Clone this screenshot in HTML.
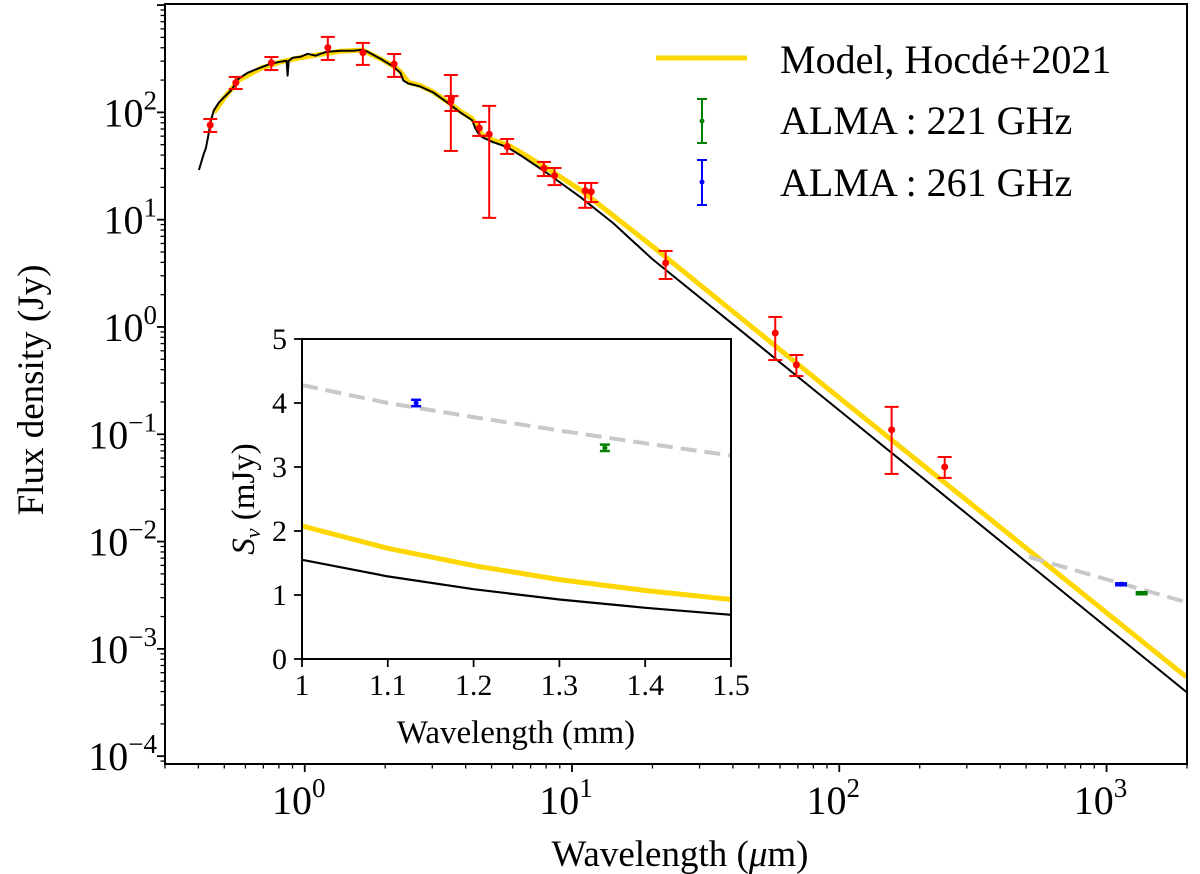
<!DOCTYPE html>
<html><head><meta charset="utf-8"><style>
html,body{margin:0;padding:0;background:#fff;}
svg{display:block;font-family:"Liberation Serif","DejaVu Serif",serif;}
</style></head><body>
<svg id="chart" width="1200" height="874" viewBox="0 0 1200 874" xmlns="http://www.w3.org/2000/svg"></svg>
<script>
// ---- main plot data ----
const redLam  = [0.443,0.552,0.75,1.22,1.65,2.16,3.52,3.54,4.5,4.9,5.72,7.85,8.6,11.2,11.8,22.4,57.6,69.1,157,248];
const redFlux = [76.3,189,290,401,360,282,126,136,71.6,62.5,47.9,30.1,25.7,18.6,18.2,3.95,0.879,0.443,0.110,0.0496];
const redLo   = [65.7,165,248,308,277,214,43.7,103,60.3,10.4,41,25.5,21.0,12.9,14.6,2.80,0.492,0.349,0.0427,0.0392];
const redHi   = [86.7,214,328,505,444,350,223,142,81.5,115,56.5,34.5,30.3,22.0,22.0,5.11,1.24,0.548,0.180,0.0614];
const almaLam  = [1353,1133];
const almaFlux = [0.0033,0.0040];
const almaErr  = [0.00007,0.00008];
const almaColor = ['#008000','#0000ff'];
// black photosphere model (log10 lambda um, log10 flux Jy)
const blackLogLam = [-0.396,-0.377,-0.370,-0.362,-0.351,-0.340,-0.321,-0.303,-0.276,-0.247,-0.213,-0.165,-0.127,-0.090,-0.068,-0.064,-0.060,-0.045,-0.015,0.011,0.041,0.059,0.085,0.134,0.182,0.216,0.235,0.283,0.332,0.358,0.369,0.388,0.432,0.481,0.533,0.582,0.627,0.638,0.649,0.664,0.705,0.757,0.806,0.906,1.030,1.153,1.302,1.6,2.0,3.298];
const blackLogF   = [1.463,1.620,1.667,1.769,1.926,2.019,2.093,2.139,2.204,2.315,2.370,2.417,2.454,2.472,2.481,2.343,2.481,2.509,2.519,2.546,2.528,2.546,2.565,2.574,2.574,2.583,2.565,2.5,2.426,2.370,2.296,2.269,2.241,2.185,2.093,2.0,1.926,1.852,1.806,1.769,1.722,1.676,1.602,1.435,1.213,0.97,0.63,0.03,-0.778,-3.40];
// yellow model (Hocde+2021)
const yellowLogLam = [-0.340,-0.303,-0.247,-0.165,-0.090,-0.015,0.059,0.134,0.216,0.283,0.332,0.358,0.388,0.432,0.481,0.533,0.582,0.627,0.664,0.705,0.757,0.806,0.906,1.030,1.302,2.0,3.298];
const yellowLogF   = [2.0,2.13,2.30,2.41,2.47,2.51,2.54,2.57,2.58,2.5,2.43,2.38,2.28,2.25,2.19,2.10,2.01,1.94,1.79,1.74,1.70,1.63,1.48,1.28,0.75,-0.66,-3.26];
// gray dashed free-free fit
const dashLam  = [512,2000];
const dashFlux = [0.00718,0.00271];
const xMajor = [0,1,2,3];
const yMajor = [2,1,0,-1,-2,-3,-4];

// ---- inset data ----
const insLam    = [1.0,1.1,1.2,1.3,1.4,1.5];
const insGray   = [4.28,4.0,3.78,3.57,3.37,3.18];
const insYellow = [2.08,1.73,1.46,1.24,1.07,0.93];
const insBlack  = [1.55,1.29,1.09,0.93,0.80,0.69];
const insPtLam  = [1.133,1.353];
const insPtVal  = [4.0,3.3];
const insPtErr  = [0.05,0.05];
const insPtColor = ['#0000ff','#008000'];
const insXTicks = [1,1.1,1.2,1.3,1.4,1.5];
const insXLabels = ['1','1.1','1.2','1.3','1.4','1.5'];
const insYTicks = [0,1,2,3,4,5];

const NS='http://www.w3.org/2000/svg';
const svg=document.getElementById('chart');
function mk(tag,attrs,parent){const e=document.createElementNS(NS,tag);for(const k in attrs)e.setAttribute(k,attrs[k]);(parent||svg).appendChild(e);return e;}

// main axes
const L=165,R=1187,T=4,B=764;
const LX0=Math.log10(0.3),LX1=Math.log10(2000),LY0=-4.073,LY1=3.01;
const sx=l=>L+(Math.log10(l)-LX0)/(LX1-LX0)*(R-L);
const sxl=g=>L+(g-LX0)/(LX1-LX0)*(R-L);
const sy=f=>B-(Math.log10(f)-LY0)/(LY1-LY0)*(B-T);
const syl=g=>B-(g-LY0)/(LY1-LY0)*(B-T);

const defs=mk('defs',{});
const cp=mk('clipPath',{id:'mainclip'},defs);mk('rect',{x:L,y:T,width:R-L,height:B-T},cp);
const ic=mk('clipPath',{id:'insclip'},defs);mk('rect',{x:302,y:339,width:429,height:320},ic);

const plot=mk('g',{'clip-path':'url(#mainclip)'});



function poly(xs,ys,attrs,parent){return mk('polyline',Object.assign({points:xs.map((x,i)=>x.toFixed(1)+','+ys[i].toFixed(1)).join(' '),fill:'none'},attrs),parent);}

const yl=poly(yellowLogLam.map(sxl),yellowLogF.map(syl),{stroke:'#ffd700','stroke-width':5,'stroke-linejoin':'round'},plot);


const bl=poly(blackLogLam.map(sxl),blackLogF.map(syl),{stroke:'#000','stroke-width':2,'stroke-linejoin':'round'},plot);


const dl=poly(dashLam.map(sx),dashFlux.map(sy),{stroke:'#c8c8c8','stroke-width':4,'stroke-dasharray':'16,8'},plot);



function errbar(x,y1,y2,yc,col,cap,w,r,parent,name){
  const g=mk('g',{},parent);
  
  
  mk('line',{x1:x,x2:x,y1:y1,y2:y2,stroke:col,'stroke-width':w},g);
  mk('line',{x1:x-cap,x2:x+cap,y1:y1,y2:y1,stroke:col,'stroke-width':w},g);
  mk('line',{x1:x-cap,x2:x+cap,y1:y2,y2:y2,stroke:col,'stroke-width':w},g);
  mk('circle',{cx:x,cy:yc,r:r,fill:col},g);
}
redLam.forEach((l,i)=>{errbar(sx(l),sy(redHi[i]),sy(redLo[i]),sy(redFlux[i]),'#ff0000',7,2,3.5,plot,'photometry-point');});
almaLam.forEach((l,i)=>{errbar(sx(l),sy(almaFlux[i]+almaErr[i]),sy(almaFlux[i]-almaErr[i]),sy(almaFlux[i]),almaColor[i],6,2.5,2.5,plot,'alma-point');});

// main frame
const fr=mk('rect',{x:L,y:T,width:R-L,height:B-T,fill:'none',stroke:'#000','stroke-width':2});



// x ticks
const xax=mk('g',{});


for(let d=-1;d<=3;d++){for(let m=1;m<=9;m++){const l=m*Math.pow(10,d);if(l<0.3||l>2000)continue;const x=sx(l);
  mk('line',{x1:x,x2:x,y1:B,y2:B+(m===1?8:4.5),stroke:'#000','stroke-width':m===1?1.8:1.3},xax);}}
xMajor.forEach(e=>{const t=mk('text',{x:sx(Math.pow(10,e))-6,y:814,'font-size':40,'text-anchor':'middle'},xax);
  
  
  t.textContent='10';const s=mk('tspan',{dy:-17,'font-size':27},t);s.textContent=String(e);});
const xt=mk('text',{x:680,y:866,'font-size':37,'text-anchor':'middle'});


xt.innerHTML='Wavelength (<tspan font-style="italic">μ</tspan>m)';

// y ticks
const yax=mk('g',{});


for(let d=-5;d<=3;d++){for(let m=1;m<=9;m++){const g=d+Math.log10(m);if(g<LY0||g>LY1)continue;const y=syl(g);
  mk('line',{x1:L,x2:L-(m===1?8:4.5),y1:y,y2:y,stroke:'#000','stroke-width':m===1?1.8:1.3},yax);}}
yMajor.forEach(e=>{const t=mk('text',{x:157,y:syl(e)+14,'font-size':40,'text-anchor':'end'},yax);
  
  
  t.textContent='10';const s=mk('tspan',{dy:-17,'font-size':27},t);s.textContent=e<0?'−'+(-e):String(e);});
const ytl=mk('text',{x:0,y:0,'font-size':37,'text-anchor':'middle',transform:'translate(43,390) rotate(-90)'});


ytl.textContent='Flux density (Jy)';

// legend
const leg=mk('g',{});


const l1=mk('line',{x1:656,x2:747,y1:58,y2:58,stroke:'#ffd700','stroke-width':5},leg);


errbar(702,99,143,121,'#008000',5,2,2.5,leg,'legend-alma221-swatch');
errbar(702,160,205,182,'#0000ff',5,2,2.5,leg,'legend-alma261-swatch');
[['Model, Hocdé+2021',73],['ALMA : 221 GHz',134],['ALMA : 261 GHz',196]].forEach(([s,y])=>{
  const t=mk('text',{x:780,y:y,'font-size':40},leg);
  
  
  t.textContent=s;});

// ---- inset ----
const IL=302,IR=731,IT=339,IB=659;
const ix=v=>IL+(v-1)/0.5*(IR-IL);
const iy=v=>IB-v/5*(IB-IT);
const ins=mk('g',{});


mk('rect',{x:IL,y:IT,width:IR-IL,height:IB-IT,fill:'#fff'},ins);
const ip=mk('g',{'clip-path':'url(#insclip)'},ins);
const ig=poly(insLam.map(ix),insGray.map(iy),{stroke:'#c8c8c8','stroke-width':4,'stroke-dasharray':'16,8'},ip);


const iyl=poly(insLam.map(ix),insYellow.map(iy),{stroke:'#ffd700','stroke-width':5,'stroke-linejoin':'round'},ip);


const ibl=poly(insLam.map(ix),insBlack.map(iy),{stroke:'#000','stroke-width':2.2,'stroke-linejoin':'round'},ip);


insPtLam.forEach((l,i)=>{errbar(ix(l),iy(insPtVal[i]+insPtErr[i]),iy(insPtVal[i]-insPtErr[i]),iy(insPtVal[i]),insPtColor[i],5,2.5,2.5,ip,'inset-alma-point');});
const ifr=mk('rect',{x:IL,y:IT,width:IR-IL,height:IB-IT,fill:'none',stroke:'#000','stroke-width':2},ins);


insXTicks.forEach((v,i)=>{const x=ix(v);mk('line',{x1:x,x2:x,y1:IB,y2:IB+8,stroke:'#000','stroke-width':1.8},ins);
  const t=mk('text',{x:x,y:695,'font-size':30,'text-anchor':'middle'},ins);
  
  
  t.textContent=insXLabels[i];});
insYTicks.forEach(v=>{const y=iy(v);mk('line',{x1:IL,x2:IL-8,y1:y,y2:y,stroke:'#000','stroke-width':1.8},ins);
  const t=mk('text',{x:287,y:y+10,'font-size':30,'text-anchor':'end'},ins);
  
  
  t.textContent=String(v);});
const ixt=mk('text',{x:516,y:743,'font-size':33,'text-anchor':'middle'},ins);


ixt.textContent='Wavelength (mm)';
const iyt=mk('text',{x:0,y:0,'font-size':33,'text-anchor':'middle',transform:'translate(254,499) rotate(-90)'},ins);


iyt.innerHTML='<tspan font-style="italic">S</tspan><tspan font-style="italic" font-size="22" dy="6">ν</tspan><tspan dy="-6"> (mJy)</tspan>';
</script>
</body></html>
